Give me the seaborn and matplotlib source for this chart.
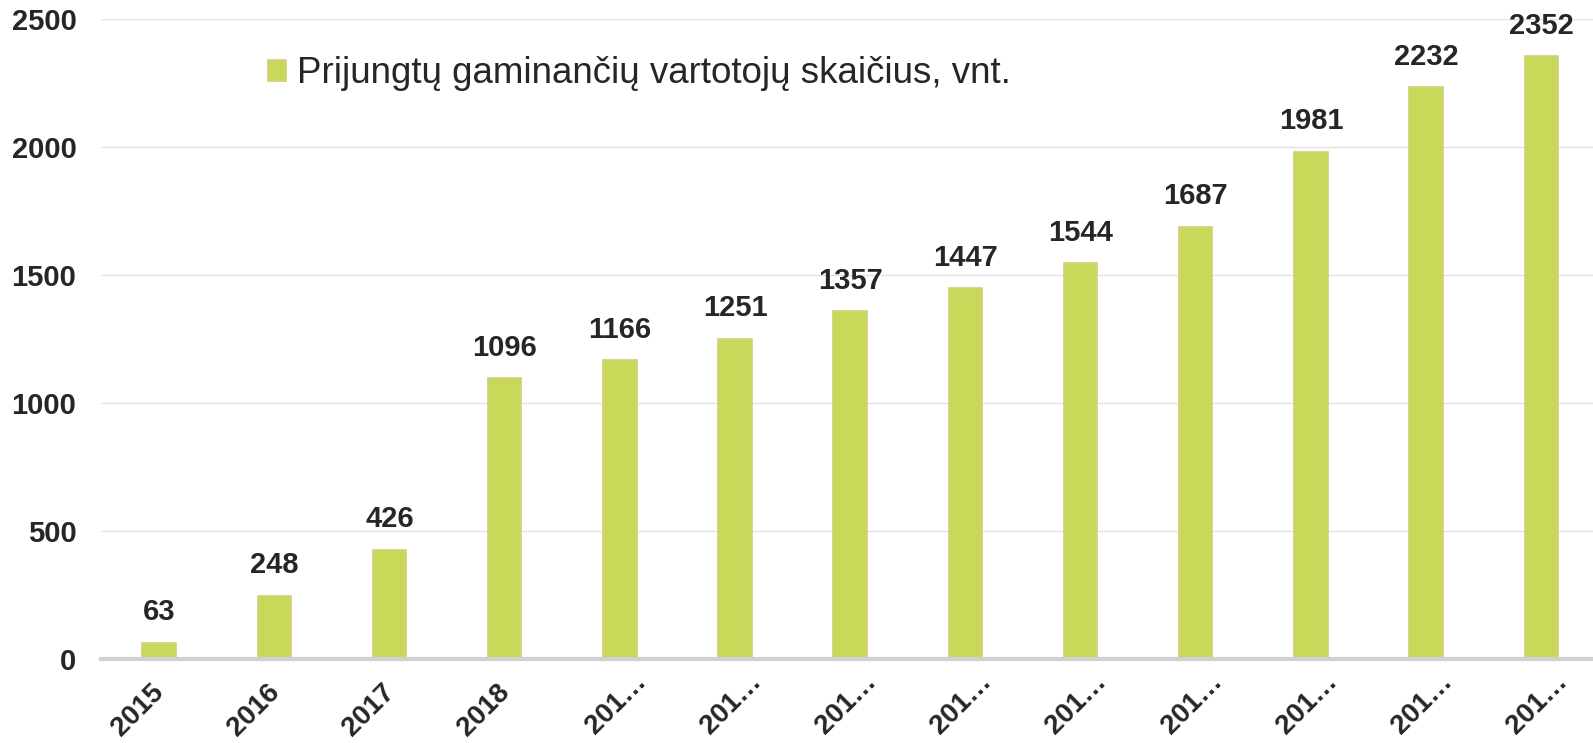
import matplotlib
matplotlib.use("Agg")
import matplotlib.pyplot as plt
import matplotlib.transforms as mtransforms
import seaborn as sns
import pandas as pd

categories = ["2015", "2016", "2017", "2018", "201…", "201… ", "201…  ", "201…   ",
              "201…    ", "201…     ", "201…      ", "201…       ", "201…        "]
tick_labels = ["2015", "2016", "2017", "2018"] + ["201…"] * 9
values = [63, 248, 426, 1096, 1166, 1251, 1357, 1447, 1544, 1687, 1981, 2232, 2352]
series_name = "Prijungtų gaminančių vartotojų skaičius, vnt."
yticks = [0, 500, 1000, 1500, 2000, 2500]

sns.set_theme(style="white")
plt.rcParams['font.family'] = ['Liberation Sans', 'DejaVu Sans']

df = pd.DataFrame({"cat": categories, "val": values, "series": series_name})

fig = plt.figure(figsize=(15.93, 7.43), dpi=100)
ax = fig.add_axes([0.0637, 0.113, 0.940, 0.862])

sns.barplot(data=df, x="cat", y="val", hue="series", palette=["#C8D95A"],
            width=0.29, ax=ax, edgecolor="#D2CD78", linewidth=1.2, saturation=1)

ax.set_ylim(0, 2500)
ax.set_xlim(-0.5, 12.5)
ax.set_yticks(yticks)
ax.set_yticklabels([str(t) for t in yticks], fontsize=21, fontweight="bold", color="#262626")
ax.set_xticks(range(len(categories)))
ax.set_xticklabels(tick_labels, rotation=45, ha="right", rotation_mode="anchor",
                   fontsize=20, fontweight="bold", color="#262626")
ax.tick_params(axis="x", pad=18, length=0)
ax.tick_params(axis="y", pad=18, length=0)
for lbl in ax.get_xticklabels():
    if "…" in lbl.get_text():
        dx, dy = 13, 16
    else:
        dx, dy = -8, 5
    off = mtransforms.ScaledTranslation(dx / 100, dy / 100, fig.dpi_scale_trans)
    lbl.set_transform(lbl.get_transform() + off)
ax.set_xlabel("")
ax.set_ylabel("")
ax.yaxis.grid(True, color="#E2E2E2", linewidth=1)
ax.set_axisbelow(True)
for s in ["top", "right", "left"]:
    ax.spines[s].set_visible(False)
ax.spines["bottom"].set_color("#D0D0D0")
ax.spines["bottom"].set_linewidth(3)

for c in ax.containers:
    ax.bar_label(c, labels=[str(v) for v in values], padding=12, fontsize=21,
                 fontweight="bold", color="#262626")

leg = ax.legend(loc="upper left", bbox_to_anchor=(0.089, 0.993), frameon=False,
                fontsize=26.5, handlelength=0.5, handleheight=0.5, handletextpad=0.3)
for t in leg.get_texts():
    t.set_color("#262626")

fig.savefig("out.png", dpi=100)
